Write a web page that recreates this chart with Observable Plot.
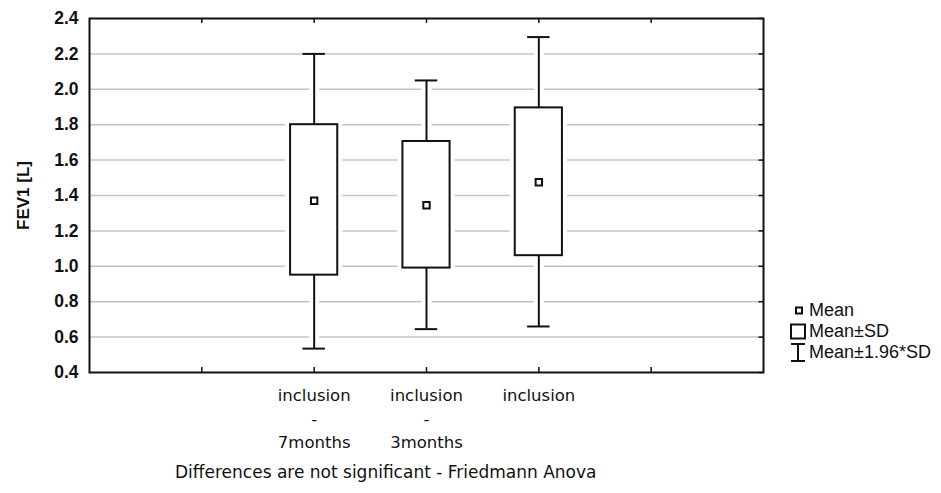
<!DOCTYPE html>
<html><head><meta charset="utf-8">
<script src="https://cdn.jsdelivr.net/npm/d3@7"></script>
<script src="https://cdn.jsdelivr.net/npm/@observablehq/plot@0.6"></script>
<style>
body{margin:0;background:#fff;}
#wrap{position:relative;width:941px;height:493px;overflow:hidden;}
#chart svg{display:block;}
#legend{position:absolute;left:789px;top:300px;font-family:"Liberation Sans",Arial,sans-serif;font-size:18px;color:#111;}
#legend .row{display:flex;align-items:center;height:21px;}
#legend svg{width:18px;height:21px;margin-right:2px;flex:none;}
#caption{position:absolute;left:175px;top:462px;font-family:"DejaVu Sans",Verdana,sans-serif;font-size:17px;color:#111;white-space:nowrap;}
</style></head><body>
<div id="wrap">
<div id="chart"></div>
<div id="legend">
  <div class="row"><svg viewBox="0 0 18 21"><rect x="7" y="7.5" width="6" height="6" fill="#fff" stroke="#111" stroke-width="2"/></svg><span>Mean</span></div>
  <div class="row"><svg viewBox="0 0 18 21"><rect x="2" y="3.5" width="14" height="14" fill="#fff" stroke="#111" stroke-width="2"/></svg><span>Mean±SD</span></div>
  <div class="row"><svg viewBox="0 0 18 21"><path d="M2 2H16M9 2V19M2 19H16" fill="none" stroke="#111" stroke-width="2"/></svg><span>Mean±1.96*SD</span></div>
</div>
<div id="caption">Differences are not significant - Friedmann Anova</div>
</div>
<script>
const groups = ["inclusion\n-\n7months", "inclusion\n-\n3months", "inclusion"];
const positions = [2, 3, 4];
const means = [1.37, 1.345, 1.475];
const sdLow = [0.95, 0.99, 1.06];
const sdHigh = [1.80, 1.705, 1.895];
const ciLow = [0.535, 0.645, 0.66];
const ciHigh = [2.20, 2.05, 2.295];
const yTicks = [0.4, 0.6, 0.8, 1.0, 1.2, 1.4, 1.6, 1.8, 2.0, 2.2, 2.4];
const xTickPos = [1, 2, 3, 4, 5];
const yLabel = "FEV1 [L]";

const data = groups.map((g, i) => ({
  g, x: positions[i], mean: means[i], lo: sdLow[i], hi: sdHigh[i], clo: ciLow[i], chi: ciHigh[i]
}));
const boxHalf = 0.21, capHalf = 0.1;
const ink = "#111";

const whiskers = (opts) => [
  Plot.ruleX(data, {x: "x", y1: "hi", y2: "chi", ...opts}),
  Plot.ruleX(data, {x: "x", y1: "clo", y2: "lo", ...opts}),
  Plot.ruleY(data, {y: "chi", x1: d => d.x - capHalf, x2: d => d.x + capHalf, ...opts}),
  Plot.ruleY(data, {y: "clo", x1: d => d.x - capHalf, x2: d => d.x + capHalf, ...opts})
];
const boxes = (opts) => Plot.rect(data, {x1: d => d.x - boxHalf, x2: d => d.x + boxHalf, y1: "lo", y2: "hi", ...opts});

const chart = Plot.plot({
  width: 941,
  height: 460,
  marginLeft: 89,
  marginRight: 178,
  marginTop: 18,
  marginBottom: 88,
  x: {type: "linear", domain: [0, 6]},
  y: {domain: [0.4, 2.4]},
  style: {background: "#fff", color: ink},
  marks: [
    Plot.gridY(yTicks.slice(1, -1), {stroke: "#c4c4c4", strokeOpacity: 1, strokeWidth: 1.5}),
    // white halos that break the grid lines
    ...whiskers({stroke: "#fff", strokeWidth: 10}),
    boxes({fill: "#fff", stroke: "#fff", strokeWidth: 10}),
    ...whiskers({stroke: ink, strokeWidth: 2}),
    boxes({fill: "#fff", stroke: ink, strokeWidth: 2}),
    Plot.dot(data, {x: "x", y: "mean", symbol: "square", r: 3.6, fill: "#fff", stroke: ink, strokeWidth: 2}),
    // inward tick marks
    Plot.ruleX(xTickPos, {x: d => d, y1: 0.4, y2: 0.428, stroke: ink, strokeWidth: 1.5}),
    Plot.ruleX(xTickPos, {x: d => d, y1: 2.4, y2: 2.372, stroke: ink, strokeWidth: 1.5}),
    Plot.ruleY(yTicks, {y: d => d, x1: 6, x2: 5.96, stroke: ink, strokeWidth: 1.5}),
    Plot.frame({stroke: ink, strokeWidth: 2}),
    Plot.axisY(yTicks, {
      tickSize: 0, tickPadding: 11, tickFormat: d3.format(".1f"), label: null,
      fontSize: 17.5, fontWeight: "bold", fontFamily: "Liberation Sans, Arial, sans-serif"
    }),
    Plot.axisX(positions, {
      tickSize: 0, tickPadding: 12, label: null,
      tickFormat: v => groups[positions.indexOf(v)],
      fontSize: 16.5, lineHeight: 1.43, fontFamily: "DejaVu Sans, Verdana, sans-serif"
    }),
    Plot.text([yLabel], {
      frameAnchor: "left", dx: -66, rotate: -90, text: d => d, textAnchor: "middle",
      fontSize: 17, fontWeight: "bold", fontFamily: "Liberation Sans, Arial, sans-serif", fill: ink
    })
  ]
});
document.getElementById("chart").appendChild(chart);
</script>
</body></html>
